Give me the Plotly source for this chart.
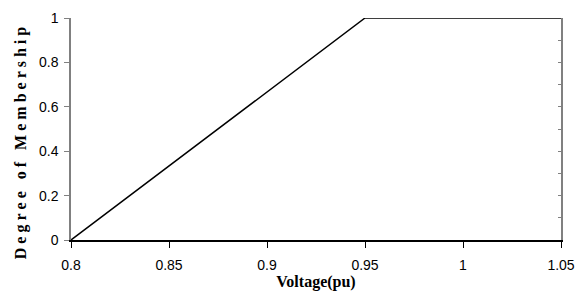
import plotly.graph_objects as go

voltage = [0.8, 0.95, 1.05]
membership = [0, 1, 1]
x_ticks = [0.8, 0.85, 0.9, 0.95, 1, 1.05]
x_tick_labels = ["0.8", "0.85", "0.9", "0.95", "1", "1.05"]
y_ticks = [0, 0.2, 0.4, 0.6, 0.8, 1]
y_tick_labels = ["0", "0.2", "0.4", "0.6", "0.8", "1"]

tick_font = dict(family="Liberation Sans, Arial", size=14, color="black")
title_font = dict(family="Liberation Serif, Times New Roman", size=16, color="black")

fig = go.Figure()
fig.add_trace(go.Scatter(x=voltage, y=membership, mode="lines",
                         line=dict(color="black", width=1.5), showlegend=False))
fig.add_trace(go.Scatter(x=voltage, y=membership, mode="lines", yaxis="y2",
                         line=dict(color="rgba(0,0,0,0)"), showlegend=False, hoverinfo="skip"))

sp = "\u00a0"
ytitle = sp.join(list("Degree")) + sp * 3 + sp.join(list("of")) + sp * 3 + sp.join(list("Membership")) + sp * 7

fig.update_layout(
    width=575, height=295,
    margin=dict(l=71, r=14, t=18, b=55),
    plot_bgcolor="white", paper_bgcolor="white",
    xaxis=dict(range=[0.8, 1.05], tickvals=x_ticks, ticktext=x_tick_labels,
               showgrid=False, zeroline=False, showline=True, linecolor="black", linewidth=1.5,
               ticks="outside", ticklen=6, tickcolor="black", tickwidth=1,
               tickfont=tick_font, automargin=False, ticklabelstandoff=5,
               title=dict(text="<b>Voltage(pu)</b>", font=title_font, standoff=0)),
    yaxis=dict(range=[0, 1], tickvals=y_ticks, ticktext=y_tick_labels,
               showgrid=False, zeroline=False, showline=True, linecolor="#808080", linewidth=1.5,
               ticks="outside", ticklen=5, tickcolor="#808080", tickwidth=1,
               tickfont=tick_font, automargin=False, ticklabelstandoff=3,
               title=dict(text="<b>" + ytitle + "</b>", font=title_font, standoff=8)),
    yaxis2=dict(range=[0, 1], overlaying="y", side="right", showgrid=False, zeroline=False,
                showline=True, linecolor="#808080", linewidth=1.5,
                tickvals=[0.1 * i for i in range(11)], ticks="inside", ticklen=3,
                tickcolor="#808080", showticklabels=False, automargin=False),
)

fig.write_html(
    "out.html",
    config={"displayModeBar": False},
    post_script="document.body.style.margin='0';document.body.style.overflow='hidden';",
)
